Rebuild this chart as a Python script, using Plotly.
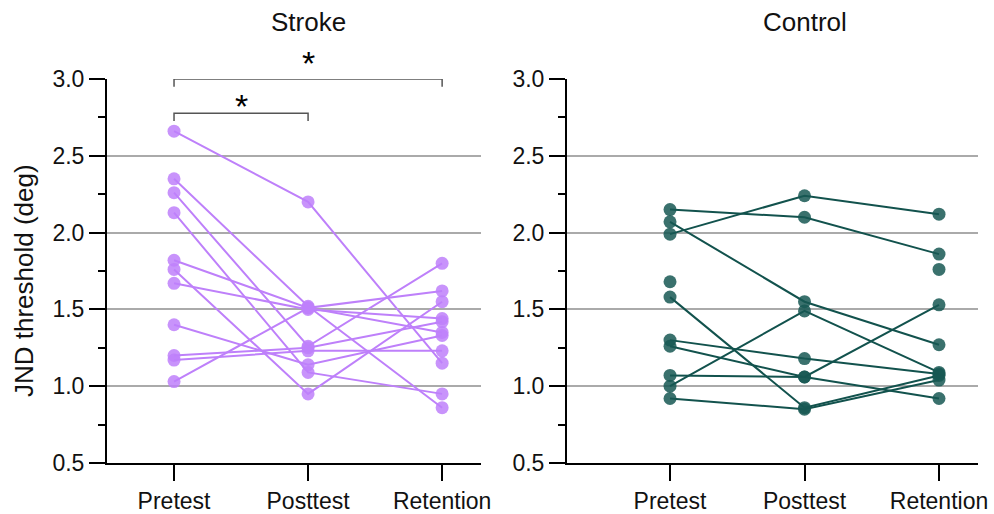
import plotly.graph_objects as go

# Test sessions (x categories)
sessions = ["Pretest", "Posttest", "Retention"]

# JND thresholds (deg) per participant: [pretest, posttest, retention]
stroke_subjects = [
    [2.66, 2.20, 1.15],
    [2.35, 1.52, 0.86],
    [2.26, 1.26, 1.80],
    [2.13, 1.09, 0.95],
    [1.82, 1.51, 1.62],
    [1.76, 0.95, 1.55],
    [1.67, 1.50, 1.44],
    [1.40, 1.14, 1.33],
    [1.20, 1.25, 1.42],
    [1.17, 1.23, 1.23],
    [1.03, 1.51, 1.35],
]

control_subjects = [
    [2.15, 2.10, 1.86],
    [1.99, 2.24, 2.12],
    [2.07, 1.55, 1.27],
    [1.00, 1.49, 1.09],
    [1.58, 0.86, 1.07],
    [0.92, 0.85, 1.04],
    [1.30, 1.18, 1.08],
    [1.26, 1.06, 0.92],
    [1.07, 1.06, 1.53],
    [1.68, None, 1.76],
]

group_titles = ["Stroke", "Control"]

# Significant pairwise comparisons in the stroke group: (from, to, bracket height)
stroke_sig = [
    ("Pretest", "Retention", 3.0),
    ("Pretest", "Posttest", 2.777),
]
# vertical nudge (px) of each star relative to its bracket
star_shift = [-5, -14]

y_ticks = [0.5, 1.0, 1.5, 2.0, 2.5, 3.0]
grid_vals = [1.0, 1.5, 2.0, 2.5]
y_range = [0.5, 3.0]

STROKE_LINE = "rgb(190,128,250)"
STROKE_DOT = "rgba(190,128,250,0.85)"
CONTROL_LINE = "rgb(18,82,77)"
CONTROL_DOT = "rgba(24,88,83,0.85)"
FONT = "Liberation Sans, Arial, sans-serif"

W, H = 994, 514

fig = go.Figure()

for vals in stroke_subjects:
    fig.add_trace(go.Scatter(
        x=sessions, y=vals, mode="lines+markers", xaxis="x", yaxis="y",
        line=dict(color=STROKE_LINE, width=2),
        marker=dict(color=STROKE_DOT, size=13, line=dict(width=0)),
        connectgaps=False, showlegend=False, hoverinfo="skip",
    ))

for vals in control_subjects:
    fig.add_trace(go.Scatter(
        x=sessions, y=vals, mode="lines+markers", xaxis="x2", yaxis="y2",
        line=dict(color=CONTROL_LINE, width=2),
        marker=dict(color=CONTROL_DOT, size=13, line=dict(width=0)),
        connectgaps=False, showlegend=False, hoverinfo="skip",
    ))


def px_x(a, b):
    return [a / W, b / W]


y_dom = [(H - 463) / H, (H - 79) / H]
tick_font = dict(family=FONT, size=23, color="#111")

xaxis_common = dict(
    type="category", categoryorder="array", categoryarray=sessions,
    showline=True, linecolor="black", linewidth=2,
    ticks="outside", ticklen=16, tickwidth=2, tickcolor="black",
    showgrid=False, zeroline=False, automargin=False,
    tickfont=tick_font,
)
# Background axis: horizontal grid only
ygrid_common = dict(
    range=y_range, tickvals=grid_vals, showticklabels=False, ticks="",
    showline=False, showgrid=True, gridcolor="#aaaaaa", gridwidth=1.5,
    zeroline=False, automargin=False,
)
# Foreground axis: spine, labels, major and minor ticks
ytick_common = dict(
    range=y_range, tickvals=y_ticks, ticktext=[f"{v:.1f}" for v in y_ticks],
    showline=True, linecolor="black", linewidth=2,
    ticks="outside", ticklen=16, tickwidth=2, tickcolor="black",
    minor=dict(dtick=0.25, tick0=0.5, ticks="outside", ticklen=7,
               tickwidth=2, tickcolor="black", showgrid=False),
    showgrid=False, zeroline=False, automargin=False,
    tickfont=tick_font,
)

fig.update_layout(
    width=W, height=H,
    margin=dict(l=0, r=0, t=0, b=0),
    paper_bgcolor="white", plot_bgcolor="white",
    xaxis=dict(domain=px_x(107, 481), range=[-0.5, 2.29], anchor="y", **xaxis_common),
    yaxis=dict(domain=y_dom, anchor="x", **ygrid_common),
    yaxis3=dict(domain=y_dom, anchor="x", overlaying="y", **ytick_common),
    xaxis2=dict(domain=px_x(567, 978), range=[-0.766, 2.29], anchor="y2", **xaxis_common),
    yaxis2=dict(domain=y_dom, anchor="x2", **ygrid_common),
    yaxis4=dict(domain=y_dom, anchor="x2", overlaying="y2", **ytick_common),
)

# Dummy traces so the foreground axes are drawn
for xa, ya in (("x", "y3"), ("x2", "y4")):
    fig.add_trace(go.Scatter(x=[None], y=[None], xaxis=xa, yaxis=ya,
                             showlegend=False, hoverinfo="skip"))

# Panel titles
for i, title in enumerate(group_titles):
    fig.add_annotation(
        text=title, xref="x" if i == 0 else "x2", x="Posttest",
        yref="paper", y=1 - 21.7 / H, yanchor="middle", showarrow=False,
        font=dict(family=FONT, size=26, color="#111"),
    )

# Shared y-axis label
fig.add_annotation(
    text="JND threshold (deg)", textangle=-90,
    xref="paper", x=24 / W, yref="paper", y=1 - 281 / H,
    xanchor="center", yanchor="middle", showarrow=False,
    font=dict(family=FONT, size=26, color="#111"),
)

# Significance brackets and stars
leg = 0.05
for (a, b, h), dy in zip(stroke_sig, star_shift):
    fig.add_trace(go.Scatter(
        x=[a, a, b, b], y=[h - leg, h, h, h - leg], mode="lines",
        xaxis="x", yaxis="y", cliponaxis=False,
        line=dict(color="#555555", width=1.5),
        showlegend=False, hoverinfo="skip",
    ))
    ia, ib = sessions.index(a), sessions.index(b)
    fig.add_annotation(
        text="*", xref="x", x=(ia + ib) / 2, yref="y", y=h,
        yanchor="bottom", yshift=dy, showarrow=False,
        font=dict(family=FONT, size=34, color="black"),
    )

fig.write_html("out.html")
